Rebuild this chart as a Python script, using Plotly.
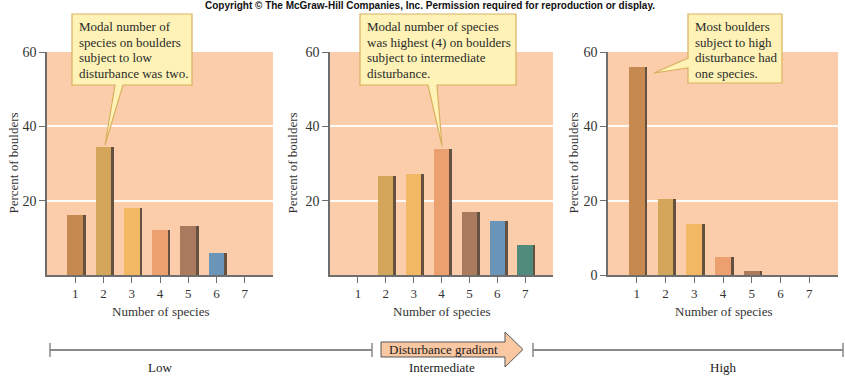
import plotly.graph_objects as go

# ---------------- data ----------------
species = [1, 2, 3, 4, 5, 6, 7]
tick_labels = ["1", "2", "3", "4", "5", "6", "7"]
low_pct = [16.1, 34.4, 18.0, 12.1, 13.2, 5.9, 0]
intermediate_pct = [0, 26.6, 27.1, 33.9, 17.0, 14.5, 8.1]
high_pct = [55.9, 20.4, 13.7, 4.8, 1.1, 0, 0]
bar_colors = ["#C68A50", "#D4A65C", "#F2B864", "#ECA070", "#A97A5E", "#6B95B8", "#4F8C7C"]
panels = [("Low", low_pct), ("Intermediate", intermediate_pct), ("High", high_pct)]

W, H = 845, 378
def px(x):
    return x / W
def py(y):
    return 1 - y / H

SERIF = "Liberation Serif"
BG = "#FCCDAA"
AXIS = "#6E6E6E"

# panel pixel extents (left, right); y from 52 (60) to 275 (0)
panel_px = [(47, 273), (330, 553), (608, 838)]
y_top, y_bot = 52, 275

fig = go.Figure()

for i, (name, vals) in enumerate(panels):
    n = "" if i == 0 else str(i + 1)
    # shadow
    fig.add_trace(go.Bar(
        x=species, y=vals, xaxis="x" + n, yaxis="y" + n,
        marker=dict(color="#65513F", line=dict(width=0)),
        width=0.55, offset=-0.18, showlegend=False, hoverinfo="skip"))
    # main bars
    fig.add_trace(go.Bar(
        x=species, y=vals, xaxis="x" + n, yaxis="y" + n,
        marker=dict(color=bar_colors, line=dict(width=0)),
        width=0.55, offset=-0.275, showlegend=False, name=name))

layout = dict(
    template="none",
    width=W, height=H, autosize=False,
    margin=dict(l=0, r=0, t=0, b=0, pad=0),
    paper_bgcolor="white", plot_bgcolor=BG,
    barmode="overlay", bargap=0, showlegend=False,
    font=dict(family=SERIF, size=13, color="#333333"),
)

for i, (l, r) in enumerate(panel_px):
    n = "" if i == 0 else str(i + 1)
    ytickvals = [0, 20, 40, 60] if i == 2 else [20, 40, 60]
    layout["xaxis" + n] = dict(
        domain=[px(l), px(r)], anchor="y" + n, range=[0, 8], automargin=False,
        tickvals=species, ticktext=tick_labels,
        ticks="outside", ticklen=6, tickcolor=AXIS, tickwidth=1.2,
        showline=True, linecolor=AXIS, linewidth=1.5,
        showgrid=False, zeroline=False, fixedrange=True,
        tickfont=dict(family=SERIF, size=13, color="#333333"))
    layout["yaxis" + n] = dict(
        domain=[py(y_bot), py(y_top)], anchor="x" + n, range=[0, 60], automargin=False,
        tickvals=ytickvals, ticks="outside", ticklen=6, tickcolor=AXIS, tickwidth=1.2,
        showline=True, linecolor=AXIS, linewidth=1.5,
        showgrid=True, gridcolor="rgba(255,255,255,0.9)", gridwidth=1.5,
        zeroline=False, fixedrange=True,
        tickfont=dict(family=SERIF, size=14, color="#333333"))

fig.update_layout(**layout)

ann = []
shapes = []

def label(x, y, text, size=13, color="#333333", family=SERIF, angle=0, xanchor="center"):
    ann.append(dict(x=px(x), y=py(y), xref="paper", yref="paper", text=text,
                    showarrow=False, xanchor=xanchor, yanchor="middle", textangle=angle,
                    font=dict(family=family, size=size, color=color)))

# axis titles
for (l, r), tx in zip(panel_px, [13, 292, 573]):
    label(tx, (y_top + y_bot) / 2, "Percent of boulders", angle=-90)
    label((l + r) / 2, 311, "Number of species")

# copyright
label(430, 6, "<b>Copyright © The McGraw-Hill Companies, Inc. Permission required for reproduction or display.</b>",
      size=10, color="#111111", family="Liberation Sans")

# callouts
def poly(points):
    return "M " + " L ".join(f"{px(x):.5f},{py(y):.5f}" for x, y in points) + " Z"

callouts = [
    dict(pts=[(72, 14), (192, 14), (192, 85), (123, 85), (105, 145), (115, 85), (72, 85)],
         lines=["Modal number of", "species on boulders", "subject to low", "disturbance was two."],
         tx=77),
    dict(pts=[(360, 14), (516, 14), (516, 85), (437, 85), (442, 146), (428, 85), (360, 85)],
         lines=["Modal number of species", "was highest (4) on boulders", "subject to intermediate", "disturbance."],
         tx=365),
    dict(pts=[(688, 14), (782, 14), (782, 83), (688, 83), (688, 68), (654, 73), (688, 58)],
         lines=["Most boulders", "subject to high", "disturbance had", "one species."],
         tx=693),
]
line_ys = [26.5, 42.5, 57.8, 73]
for c in callouts:
    shapes.append(dict(type="path", path=poly(c["pts"]), xref="paper", yref="paper",
                       fillcolor="#FEF2B6", line=dict(color="#D9B060", width=1.2), layer="above"))
    for t, ly in zip(c["lines"], line_ys):
        label(c["tx"], ly, t, color="#2A2A2A", xanchor="left")

# disturbance gradient
LINE_C = "#8A8A8A"
for x0, x1 in [(50, 372), (533, 843)]:
    shapes.append(dict(type="line", x0=px(x0), x1=px(x1), y0=py(350), y1=py(350),
                       xref="paper", yref="paper", line=dict(color=LINE_C, width=2)))
    for xe in (x0, x1):
        shapes.append(dict(type="line", x0=px(xe), x1=px(xe), y0=py(343), y1=py(357),
                           xref="paper", yref="paper", line=dict(color=LINE_C, width=1.5)))
shapes.append(dict(type="path",
                   path=poly([(381, 342), (505, 342), (505, 332), (523, 349.5), (505, 367), (505, 357), (381, 357)]),
                   xref="paper", yref="paper", fillcolor="#F9C7A1", line=dict(color="#555555", width=1)))
label(443, 349.5, "Disturbance gradient", color="#222222")
for (l, r), lab in zip(panel_px, ["Low", "Intermediate", "High"]):
    label((l + r) / 2, 367, lab, color="#222222")

fig.update_layout(annotations=ann, shapes=shapes)
fig.write_html("out.html", config={"displayModeBar": False},
               post_script="document.body.style.margin='0px';document.body.style.overflow='hidden';")
